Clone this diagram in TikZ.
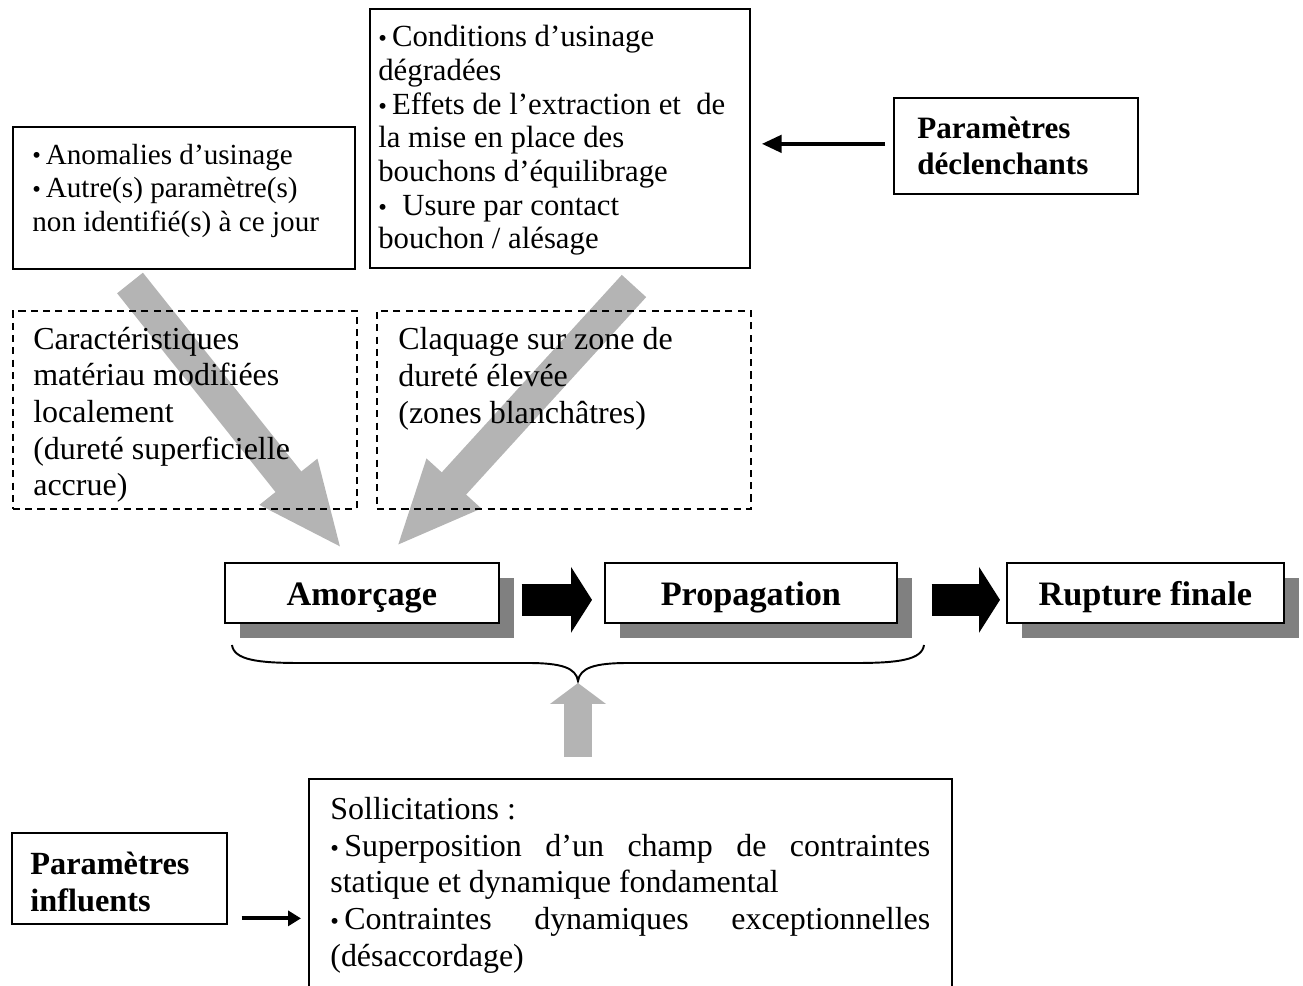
\documentclass[tikz,border=0pt]{standalone}
\usepackage{fontspec}
\setmainfont{Liberation Serif}
\usetikzlibrary{arrows.meta}
\definecolor{garr}{RGB}{180,180,180}
\definecolor{shad}{RGB}{128,128,128}
\newcommand\bul{\raisebox{0.1pt}{\fontsize{14}{14}\selectfont •}}
\begin{document}
\begin{tikzpicture}[x=0.02cm,y=-0.02cm,
  box/.style={draw, line width=1pt, anchor=north west, inner sep=0},
  dbox/.style={draw, line width=1pt, dash pattern=on 4pt off 3pt, anchor=north west, inner sep=0},
  txt/.style={font=\fontsize{16.6}{19.35}\selectfont, align=left, inner sep=0, anchor=base west},
  btxt/.style={font=\fontsize{17.7}{20.8}\selectfont\bfseries, align=left, inner sep=0, anchor=base west},
  proc/.style={draw, line width=1pt, fill=white, anchor=north west, inner sep=0, minimum height=1.2cm, text height=0.55cm, text depth=0.05cm, font=\fontsize{19.5}{22}\selectfont\bfseries},
  shadowbox/.style={fill=shad, anchor=north west, inner sep=0, minimum height=1.2cm},
  garrow/.style={draw=garr, line width=0.66cm, -{Triangle[length=1.72cm,width=1.34cm]}},
  uarrow/.style={draw=garr, line width=0.56cm, -{Triangle[length=0.42cm,width=1.1cm]}},
  barrow/.style={draw=black, line width=0.64cm, -{Triangle[length=0.42cm,width=1.3cm]}},
  tarrow/.style={draw=black, line width=2.6pt, -{Triangle[length=0.4cm,width=0.34cm]}},
  sarrow/.style={draw=black, line width=2.4pt, -{Triangle[length=0.26cm,width=0.3cm]}},
  bracestyle/.style={draw=black, line width=1.1pt}
]
\useasboundingbox (0,0) rectangle (1303,986);
\clip (0,0) rectangle (1303,986);

% gray diagonal arrows (behind everything)
\coordinate (a1s) at (130,283);
\coordinate (a1e) at (342,549);
\coordinate (a2s) at (634,286);
\coordinate (a2e) at (396,547);
\draw[garrow] (a1s) -- (a1e);
\draw[garrow] (a2s) -- (a2e);

% top boxes (text nodes anchored at the baseline of their last line)
\node[box, minimum width=6.84cm, minimum height=2.84cm] (TL) at (12,126) {};
\node[txt] (TLt) at (32,232) {\bul\,Anomalies d’usinage\\\bul\,Autre(s) paramètre(s)\\non identifié(s) à ce jour};

\node[box, minimum width=7.6cm, minimum height=5.18cm] (TM) at (369,8) {};
\node[txt, font=\fontsize{17.5}{19.17}\selectfont] (TMt) at (378,249) {\bul\,Conditions d’usinage\\dégradées\\\bul\,Effets de l’extraction et\ \ de\\la mise en place des\\bouchons d’équilibrage\\\bul\ \ Usure par contact\\bouchon / alésage};

\node[box, minimum width=4.88cm, minimum height=1.92cm] (PD) at (893,97) {};
\node[btxt] (PDt) at (917,175) {Paramètres\\déclenchants};
\draw[tarrow, shorten <=0.16cm, shorten >=0.22cm] ([yshift=0.04cm]PD.west) -- ([yshift=0.04cm]PD.west -| TM.east);

% dashed boxes
\node[dbox, minimum width=6.88cm, minimum height=3.96cm] (D1) at (12,310) {};
\node[txt, font=\fontsize{18.2}{20.9}\selectfont] (D1t) at (33,496) {Caractéristiques\\matériau modifiées\\localement\\(dureté superficielle\\accrue)};
\node[dbox, minimum width=7.48cm, minimum height=3.96cm] (D2) at (376,310) {};
\node[txt, font=\fontsize{18.2}{21.3}\selectfont] (D2t) at (398,424) {Claquage sur zone de\\dureté élevée\\(zones blanchâtres)};

% process chain
\node[shadowbox, minimum width=5.48cm] (As) at (240,578) {};
\node[proc, minimum width=5.48cm] (A) at (224,562) {Amorçage};
\node[shadowbox, minimum width=5.84cm] (Ps) at (620,578) {};
\node[proc, minimum width=5.84cm] (P) at (604,562) {Propagation};
\node[shadowbox, minimum width=5.54cm] (Rs) at (1022,578) {};
\node[proc, minimum width=5.54cm] (R) at (1006,562) {Rupture finale};

\draw[barrow] ([xshift=0.44cm,yshift=-0.14cm]A.east) -- ([xshift=-0.24cm,yshift=-0.14cm]P.west);
\draw[barrow] ([xshift=0.68cm,yshift=-0.14cm]P.east) -- ([xshift=-0.12cm,yshift=-0.14cm]R.west);

% brace
\draw[bracestyle] (232,645) .. controls (234,660) and (258,663) .. (300,663) -- (528,663)
  .. controls (562,663) and (576,668) .. (578,681)
  .. controls (580,668) and (594,663) .. (628,663) -- (856,663)
  .. controls (898,663) and (922,660) .. (924,645);

% up arrow
\coordinate (ua) at (578,757);
\coordinate (ub) at (578,683);
\draw[uarrow] (ua) -- (ub);

% bottom
\node[box, minimum width=4.3cm, minimum height=1.82cm] (PI) at (11,832) {};
\node[btxt, font=\fontsize{18.4}{20.8}\selectfont\bfseries] (PIt) at (30,911) {Paramètres\\influents};
\node[box, minimum width=12.86cm, minimum height=4.8cm] (S) at (308,778) {};
\node[txt, font=\fontsize{18.2}{20.8}\selectfont] (St) at (330,966) {Sollicitations :\\\makebox[12cm][s]{\bul\,Superposition d’un champ de contraintes}\\statique et dynamique fondamental\\\makebox[12cm][s]{\bul\,Contraintes dynamiques exceptionnelles}\\(désaccordage)};
\draw[sarrow, shorten <=0.28cm, shorten >=0.14cm] ([yshift=-0.8cm]PI.east) -- ([yshift=-0.8cm]PI.east -| S.west);
\end{tikzpicture}
\end{document}
